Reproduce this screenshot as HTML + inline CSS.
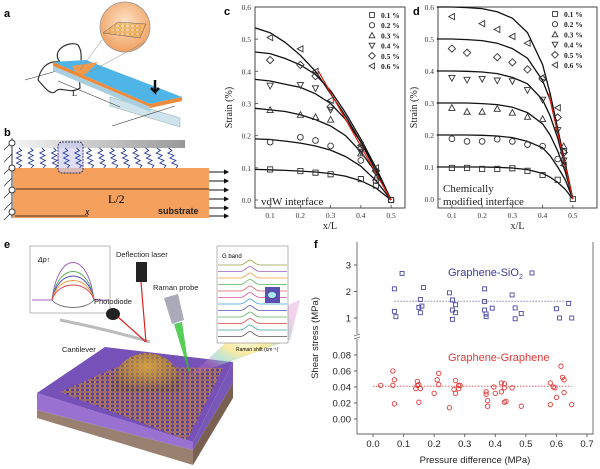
<!DOCTYPE html>
<html><head><meta charset="utf-8">
<style>
html,body{margin:0;padding:0;background:#fff;}
svg{display:block;}
.ser{font-family:"Liberation Serif",serif;}
.san{font-family:"Liberation Sans",sans-serif;}
</style></head>
<body>
<svg id="fig" width="600" height="469" viewBox="0 0 600 469" xmlns="http://www.w3.org/2000/svg">
<defs>
<radialGradient id="insetG" cx="0.5" cy="0.4" r="0.6"><stop offset="0" stop-color="#fde3c8"/><stop offset="1" stop-color="#f0a060"/></radialGradient>
<linearGradient id="barG" x1="0" x2="1"><stop offset="0" stop-color="#f4f4f4"/><stop offset="1" stop-color="#999"/></linearGradient>
<pattern id="hex" width="5" height="4" patternUnits="userSpaceOnUse"><path d="M0 2 L1.3 0 L3.7 0 L5 2 L3.7 4 L1.3 4 Z" fill="none" stroke="#e0a030" stroke-width="0.7"/></pattern>
<radialGradient id="domeG" cx="0.5" cy="0.35" r="0.6"><stop offset="0" stop-color="#c8a050"/><stop offset="1" stop-color="#4a3478"/></radialGradient>
<radialGradient id="rainbow" cx="0.5" cy="0.5" r="0.5"><stop offset="0" stop-color="#fff" stop-opacity="0.9"/><stop offset="0.4" stop-color="#f9e27a" stop-opacity="0.7"/><stop offset="0.7" stop-color="#8fd3c0" stop-opacity="0.6"/><stop offset="1" stop-color="#d070c0" stop-opacity="0.3"/></radialGradient>
</defs>

<!-- Panel a -->
<g>
<text x="4" y="17" class="san" font-size="11" font-weight="bold">a</text>
<path d="M60 62 C50 50 70 40 78 45 C85 55 78 70 80 88 C70 95 60 85 55 92 C50 95 45 88 38 80 C40 70 46 60 60 62 Z" fill="none" stroke="#333" stroke-width="1.2"/>
<line x1="25" y1="80" x2="60" y2="70" stroke="#333" stroke-width="0.6"/>
<polygon points="110,97 180,118 180,127 110,106" fill="#cfe3ec" stroke="#8aa" stroke-width="0.5"/>
<polygon points="53,62 86,60 182,97 150,104" fill="#4fb4e6"/>
<polygon points="72,66 98,62 86,74 78,76" fill="#ee9a50"/>
<polygon points="53,62 150,104 150,107 53,66" fill="#ee8a3a"/>
<polygon points="150,104 182,97 182,101 150,108" fill="#ee8a3a"/>
<polygon points="53,66 150,107 150,112 53,71" fill="#a8cfe0"/>
<line x1="58" y1="81" x2="120" y2="107" stroke="#333" stroke-width="0.6"/>
<text x="72" y="96" class="ser" font-size="8">L</text>
<line x1="112" y1="126" x2="175" y2="106" stroke="#333" stroke-width="0.6"/>
<path d="M155 80 L155 92 L151 88 M155 92 L159 88" stroke="#111" stroke-width="2.5" fill="none"/>
<circle cx="125" cy="27" r="25" fill="url(#insetG)" stroke="#999" stroke-width="0.8"/>
<polygon points="103,33 118,22 146,24 140,38" fill="url(#hex)" stroke="#446" stroke-width="0.4"/>
<line x1="102" y1="40" x2="80" y2="70" stroke="#888" stroke-width="0.5"/>
<line x1="145" y1="42" x2="90" y2="72" stroke="#888" stroke-width="0.5"/>
</g>

<!-- Panel b -->
<g>
<text x="4" y="136" class="san" font-size="11" font-weight="bold">b</text>
<rect x="15" y="140" width="170" height="8" fill="url(#barG)"/>
<rect x="13" y="168" width="196" height="50" fill="#f5a05c"/>
<rect x="58" y="142" width="25" height="31" rx="4" fill="#c8c8f0" fill-opacity="0.6" stroke="#335" stroke-dasharray="2,1"/>
<g id="springs" stroke="#2a3a9a" stroke-width="0.9" fill="none"></g>
<line x1="12" y1="138" x2="12" y2="218" stroke="#333" stroke-width="1"/>
<g stroke="#333" stroke-width="0.8">
<line x1="12" y1="142" x2="4" y2="150"/><line x1="12" y1="154" x2="4" y2="162"/><line x1="12" y1="166" x2="4" y2="174"/><line x1="12" y1="178" x2="4" y2="186"/><line x1="12" y1="190" x2="4" y2="198"/><line x1="12" y1="202" x2="4" y2="210"/><line x1="12" y1="212" x2="4" y2="220"/>
</g>
<g fill="#fff" stroke="#333" stroke-width="0.9">
<circle cx="12" cy="143" r="3"/><circle cx="12" cy="168" r="3"/><circle cx="12" cy="190" r="3"/><circle cx="12" cy="212" r="3"/>
</g>
<line x1="16" y1="189" x2="209" y2="189" stroke="#111" stroke-width="0.8"/>
<text x="108" y="203" class="ser" font-size="12">L/2</text>
<line x1="15" y1="216" x2="88" y2="216" stroke="#111" stroke-width="0.8"/>
<text x="85" y="215" class="ser" font-size="10" font-style="italic">x</text>
<text x="158" y="214" class="san" font-size="9" font-weight="bold" fill="#222">substrate</text>
<g id="pullArrows" stroke="#111" stroke-width="1"></g>
</g>

<!-- Panel c -->
<g id="panelC">
<text x="224" y="15" class="san" font-size="11" font-weight="bold">c</text>
</g>
<!-- Panel d -->
<g id="panelD">
<text x="413" y="15" class="san" font-size="11" font-weight="bold">d</text>
</g>

<!-- Panel e -->
<g>
<text x="4" y="248" class="san" font-size="11" font-weight="bold">e</text>
<polygon points="37,410 193,450 193,465 37,418" fill="#9a8070"/>
<polygon points="193,450 233,383 233,398 193,465" fill="#7a6050"/>
<polygon points="37,393 193,442 193,450 37,410" fill="#9a70d0"/>
<polygon points="193,442 233,362 233,383 193,450" fill="#7a58b8"/>
<polygon points="37,393 105,347 233,362 193,442" fill="#7652b8"/>
<polygon points="60,392 117,367 223,368 187,440" fill="#5a3aa0"/>
<polygon points="60,392 117,367 223,368 187,440" fill="url(#hex)"/>
<path d="M112 392 C112 340 182 340 182 392 Z" fill="url(#domeG)"/>
<path d="M112 392 C112 340 182 340 182 392 Z" fill="url(#hex)"/>
<polygon points="190,376 250,320 300,300 290,340" fill="url(#rainbow)"/>
<rect x="30" y="246" width="80" height="67" fill="#fff" stroke="#888" stroke-width="0.6"/>
<g fill="none" stroke-width="1">
<path d="M32 300 L52 300 C58 250 88 250 94 300 L108 300" stroke="#a060c0"/>
<path d="M52 300 C58 262 88 262 94 300" stroke="#60b060"/>
<path d="M52 300 C58 268 88 268 94 300" stroke="#5050c0"/>
<path d="M52 300 C58 274 88 274 94 300" stroke="#f0a040"/>
<path d="M52 300 C58 280 88 280 94 300" stroke="#e04040"/>
<path d="M52 300 C60 310 86 310 94 300" stroke="#777"/>
</g>
<text x="38" y="262" class="san" font-size="7" font-style="italic">Δp↑</text>
<rect x="217" y="246" width="71" height="97" fill="#fff" stroke="#888" stroke-width="0.6"/>
<g id="ramanLines" fill="none" stroke-width="0.8"></g>
<rect x="265" y="287" width="15" height="16" fill="#5a50b0"/><ellipse cx="272" cy="295" rx="4" ry="3" fill="#aee"/>
<text x="222" y="258" class="san" font-size="6">G band</text>
<text x="236" y="351" class="san" font-size="5">Raman shift (cm⁻¹)</text>
<path d="M60 320 Q110 330 150 342" stroke="#bbb" stroke-width="3" fill="none"/>
<rect x="136" y="262" width="11" height="20" fill="#222"/>
<line x1="141" y1="282" x2="146" y2="342" stroke="#e02020" stroke-width="1.2"/>
<ellipse cx="113" cy="314" rx="7" ry="6" fill="#222"/>
<line x1="118" y1="317" x2="146" y2="342" stroke="#e02020" stroke-width="1.2"/>
<polygon points="164,298 178,294 184,320 172,324" fill="#aab"/>
<polygon points="174,324 182,322 190,376" fill="#30c030" fill-opacity="0.8"/>
<text x="116" y="257" class="san" font-size="7.5" fill="#222">Deflection laser</text>
<text x="153" y="290" class="san" font-size="7.5" fill="#222">Raman probe</text>
<text x="94" y="304" class="san" font-size="7.5" fill="#222">Photodiode</text>
<text x="62" y="352" class="san" font-size="7.5" fill="#222">Cantilever</text>
</g>

<!-- Panel f -->
<g id="panelF">
<text x="314" y="248" class="san" font-size="11" font-weight="bold">f</text>
</g>
</svg>

<script>
// ---------- Panel c data ----------
const cLevels = ["0.1 %","0.2 %","0.3 %","0.4 %","0.5 %","0.6 %"];
const cCurveX = [0.05,0.1,0.15,0.2,0.25,0.3,0.35,0.4,0.45,0.5];
const cCurve1 = [0.095,0.094,0.092,0.09,0.087,0.082,0.074,0.06,0.037,0];
const cCurve2 = [0.19,0.188,0.183,0.177,0.168,0.155,0.135,0.105,0.06,0];
const cCurve3 = [0.285,0.28,0.275,0.265,0.25,0.23,0.2,0.15,0.085,0];
const cCurve4 = [0.375,0.37,0.36,0.35,0.33,0.3,0.25,0.18,0.1,0];
const cCurve5 = [0.46,0.455,0.44,0.42,0.39,0.34,0.27,0.19,0.1,0];
const cCurve6 = [0.535,0.52,0.49,0.45,0.4,0.33,0.26,0.18,0.09,0];
const cRedX = [0.26,0.5];
const cRedY = [0.40,0];
const cPts1x=[0.1,0.2,0.25,0.3,0.4,0.45,0.5], cPts1y=[0.095,0.09,0.085,0.08,0.065,0.045,0];
const cPts2x=[0.1,0.2,0.25,0.3,0.4,0.45,0.5], cPts2y=[0.18,0.195,0.185,0.168,0.123,0.06,0];
const cPts3x=[0.1,0.2,0.25,0.3,0.4,0.45], cPts3y=[0.28,0.265,0.258,0.25,0.145,0.07];
const cPts4x=[0.1,0.2,0.25,0.3,0.4,0.45], cPts4y=[0.355,0.357,0.347,0.28,0.15,0.085];
const cPts5x=[0.1,0.2,0.25,0.3,0.4,0.45], cPts5y=[0.435,0.42,0.385,0.29,0.16,0.09];
const cPts6x=[0.1,0.2,0.25,0.3,0.4,0.45], cPts6y=[0.505,0.47,0.4,0.31,0.17,0.1];
// ---------- Panel d data ----------
const dCurveX = [0.05,0.1,0.15,0.2,0.25,0.3,0.35,0.4,0.425,0.45,0.475,0.5];
const dCurve1 = [0.1,0.1,0.1,0.1,0.099,0.097,0.092,0.08,0.068,0.052,0.03,0];
const dCurve2 = [0.2,0.2,0.2,0.199,0.197,0.192,0.18,0.16,0.135,0.1,0.06,0];
const dCurve3 = [0.3,0.3,0.3,0.298,0.295,0.287,0.27,0.235,0.2,0.15,0.085,0];
const dCurve4 = [0.4,0.4,0.399,0.397,0.392,0.38,0.36,0.31,0.26,0.19,0.1,0];
const dCurve5 = [0.5,0.5,0.498,0.495,0.487,0.47,0.44,0.37,0.31,0.21,0.11,0];
const dCurve6 = [0.6,0.6,0.598,0.595,0.585,0.565,0.52,0.42,0.33,0.22,0.11,0];
const dRedX = [0.42,0.5];
const dRedY = [0.33,0];
const dPts1x=[0.1,0.15,0.2,0.25,0.3,0.35,0.4,0.45,0.5], dPts1y=[0.097,0.097,0.094,0.094,0.096,0.088,0.075,0.06,0];
const dPts2x=[0.1,0.15,0.2,0.25,0.3,0.35,0.4,0.45,0.47], dPts2y=[0.188,0.18,0.18,0.187,0.18,0.17,0.165,0.125,0.15];
const dPts3x=[0.1,0.15,0.2,0.25,0.3,0.35,0.4,0.47], dPts3y=[0.285,0.273,0.273,0.282,0.27,0.257,0.25,0.165];
const dPts4x=[0.1,0.15,0.2,0.25,0.3,0.35,0.4,0.45,0.47], dPts4y=[0.378,0.372,0.375,0.37,0.368,0.34,0.31,0.215,0.12];
const dPts5x=[0.1,0.15,0.25,0.3,0.35,0.4,0.45,0.47], dPts5y=[0.47,0.457,0.443,0.427,0.405,0.375,0.255,0.145];
const dPts6x=[0.1,0.2,0.25,0.3,0.35,0.4,0.45,0.47], dPts6y=[0.57,0.548,0.53,0.508,0.487,0.38,0.285,0.105];
const strainTicks = [0.0,0.1,0.2,0.3,0.4,0.5,0.6];
const xlTicks = [0.1,0.2,0.3,0.4,0.5];
// ---------- Panel f data ----------
const sioX = [0.07,0.07,0.075,0.095,0.15,0.155,0.155,0.16,0.165,0.25,0.26,0.26,0.26,0.27,0.27,0.365,0.365,0.365,0.37,0.37,0.39,0.455,0.465,0.465,0.485,0.52,0.6,0.61,0.64,0.65];
const sioY = [2.1,1.25,1.05,2.68,1.4,1.7,1.2,1.45,2.15,1.95,1.3,0.95,1.68,1.5,1.2,2.1,1.62,1.3,1.15,1.05,1.37,1.87,1.38,0.97,1.17,2.7,1.35,1.0,1.55,1.0];
const ggX = [0.025,0.065,0.065,0.07,0.07,0.14,0.145,0.145,0.15,0.15,0.155,0.2,0.21,0.215,0.215,0.25,0.265,0.27,0.27,0.28,0.28,0.285,0.37,0.37,0.375,0.375,0.395,0.4,0.42,0.42,0.43,0.43,0.43,0.435,0.455,0.485,0.58,0.58,0.59,0.595,0.6,0.615,0.62,0.625,0.625,0.65];
const ggY = [0.042,0.06,0.042,0.049,0.019,0.038,0.047,0.042,0.043,0.021,0.038,0.032,0.049,0.057,0.043,0.014,0.037,0.048,0.032,0.042,0.038,0.042,0.034,0.031,0.023,0.016,0.040,0.032,0.045,0.034,0.044,0.021,0.039,0.022,0.039,0.016,0.045,0.018,0.040,0.039,0.027,0.066,0.052,0.049,0.033,0.018];
const sioMean = [1.63], sioMeanRange = [0.07,0.65];
const ggMean = [0.041], ggMeanRange = [0.0,0.65];
const fXTicks = [0.0,0.1,0.2,0.3,0.4,0.5,0.6,0.7];
const fUpperTicks = [1,2,3];
const fLowerTicks = [0.00,0.02,0.04,0.06,0.08];
const fLowerLabels = ["0.00","0.02","0.04","0.06","0.08"];

const NS="http://www.w3.org/2000/svg";
function mk(parent,tag,attrs){const e=document.createElementNS(NS,tag);for(const k in attrs)e.setAttribute(k,attrs[k]);parent.appendChild(e);return e;}
function lin(d0,d1,r0,r1){return v=>r0+(v-d0)/(d1-d0)*(r1-r0);}

(function(){
  const g=document.getElementById('springs');
  for(let i=0;i<14;i++){
    const x0=19+i*11.5, lean=i*0.6; let d=`M${x0} 148`;
    for(let k=1;k<=8;k++){const y=148+k*2.5;const x=x0+lean*k/8+(k%2?2.5:-2.5)*(k<8?1:0);d+=` L${x.toFixed(1)} ${y}`;}
    const p=mk(g,'path',{d:d});
    
    
  }
  const a=document.getElementById('pullArrows');
  [172,181,190,199,208,216].forEach(y=>{
    mk(a,'line',{x1:209,y1:y,x2:227,y2:y});
    const h=mk(a,'path',{d:`M224 ${y-2} L228 ${y} L224 ${y+2}`,fill:'#111'});
    
    
  });
  const r=document.getElementById('ramanLines');
  const cols=['#9a9a40','#a060c0','#f0a040','#60b060','#e06060','#d050a0','#40a0d0','#5050c0','#60b060','#e04040','#40a0a0','#555'];
  cols.forEach((c,i)=>{const y=265+i*6.5;
    mk(r,'path',{d:`M218 ${y} L240 ${y} C245 ${y} 247 ${y-5} 250 ${y-5} C253 ${y-5} 255 ${y} 260 ${y} L287 ${y}`,stroke:c});});
})();

function markerPath(type,x,y,s){
  switch(type){
    case 0:return `M${x-s} ${y-s}h${2*s}v${2*s}h${-2*s}Z`;
    case 2:return `M${x} ${y-s*1.2}L${x+s*1.2} ${y+s}L${x-s*1.2} ${y+s}Z`;
    case 3:return `M${x} ${y+s*1.2}L${x+s*1.2} ${y-s}L${x-s*1.2} ${y-s}Z`;
    case 4:return `M${x} ${y-s*1.4}L${x+s*1.4} ${y}L${x} ${y+s*1.4}L${x-s*1.4} ${y}Z`;
    case 5:return `M${x-s*1.2} ${y}L${x+s} ${y-s*1.2}L${x+s} ${y+s*1.2}Z`;
  }
}
function marker(g,type,x,y,s,stroke,name){
  let e;
  if(type===1) e=mk(g,'circle',{cx:x,cy:y,r:s*1.1,fill:'none',stroke:stroke,'stroke-width':0.9});
  else e=mk(g,'path',{d:markerPath(type,x,y,s),fill:'none',stroke:stroke,'stroke-width':0.9});
  
  
  return e;
}

function strainPanel(gid,box,xd,curveX,curves,ptsX,ptsY,redX,redY,legX,legY,ylabX,texts){
  const g=document.getElementById(gid);
  const X=lin(xd[0],xd[1],box.l,box.r), Y=lin(0,0.6,box.y0,box.y6);
  const frame=mk(g,'rect',{x:box.l,y:box.t,width:box.r-box.l,height:box.b-box.t,fill:'none',stroke:'#444','stroke-width':1});
  
  
  strainTicks.forEach(v=>{
    mk(g,'line',{x1:box.l,y1:Y(v),x2:box.l+3,y2:Y(v),stroke:'#444','stroke-width':0.8});
    const t=mk(g,'text',{x:box.l-4,y:Y(v)+3,'text-anchor':'end','font-size':7.5,class:'ser',fill:'#333'});
    t.textContent=v.toFixed(1);
    
    
  });
  xlTicks.forEach(v=>{
    mk(g,'line',{x1:X(v),y1:box.b,x2:X(v),y2:box.b-3,stroke:'#444','stroke-width':0.8});
    const t=mk(g,'text',{x:X(v),y:box.b+10,'text-anchor':'middle','font-size':7.5,class:'ser',fill:'#333'});
    t.textContent=v.toFixed(1);
    
    
  });
  const yl=mk(g,'text',{x:ylabX,y:(box.t+box.b)/2,'text-anchor':'middle','font-size':10,class:'ser',fill:'#222',transform:`rotate(-90 ${ylabX} ${(box.t+box.b)/2})`});
  yl.textContent='Strain (%)';
  
  
  const xl=mk(g,'text',{x:(box.l+box.r)/2,y:box.b+21,'text-anchor':'middle','font-size':10,class:'ser',fill:'#222'});
  xl.textContent='x/L';
  
  
  curves.forEach(c=>{
    const p=mk(g,'path',{d:c.map((v,i)=>(i?'L':'M')+X(curveX[i]).toFixed(1)+' '+Y(v).toFixed(1)).join(' '),fill:'none',stroke:'#111','stroke-width':1.3});
    
    
  });
  const rl=mk(g,'line',{x1:X(redX[0]),y1:Y(redY[0]),x2:X(redX[1]),y2:Y(redY[1]),stroke:'#e02010','stroke-width':1.2});
  
  
  ptsX.forEach((xs,k)=>xs.forEach((x,i)=>marker(g,k,X(x),Y(ptsY[k][i]),2.6,'#333','data-point')));
  cLevels.forEach((lab,k)=>{
    const y=legY+k*10.2;
    marker(g,k,legX,y,2.4,'#333','legend-marker');
    const t=mk(g,'text',{x:legX+9,y:y+3,'font-size':7.5,'font-weight':'bold',class:'ser',fill:'#222'});
    t.textContent=lab;
    
    
  });
  texts.forEach(tt=>{
    const t=mk(g,'text',{x:tt[0],y:tt[1],'font-size':11,class:'ser',fill:'#222'});
    t.textContent=tt[2];
    
    
  });
}

strainPanel('panelC',{l:255,r:405,t:7,b:208,y0:200,y6:7},[0.05,0.546],cCurveX,
  [cCurve1,cCurve2,cCurve3,cCurve4,cCurve5,cCurve6],
  [cPts1x,cPts2x,cPts3x,cPts4x,cPts5x,cPts6x],[cPts1y,cPts2y,cPts3y,cPts4y,cPts5y,cPts6y],
  cRedX,cRedY,372,15,232,[[261,205,'vdW interface']]);
strainPanel('panelD',{l:438,r:597,t:7,b:208,y0:199,y6:7},[0.054,0.58],dCurveX,
  [dCurve1,dCurve2,dCurve3,dCurve4,dCurve5,dCurve6],
  [dPts1x,dPts2x,dPts3x,dPts4x,dPts5x,dPts6x],[dPts1y,dPts2y,dPts3y,dPts4y,dPts5y,dPts6y],
  dRedX,dRedY,555,14,417,[[443,192,'Chemically'],[443,205,'modified  interface']]);

(function(){
  const g=document.getElementById('panelF');
  const L=357,R=593,T=242,B=434;
  const X=lin(0,0.7,373,587);
  const YU=lin(1,3,318,265);
  const YL=lin(0,0.08,419,355);
  const fr=mk(g,'path',{d:`M${L} ${T} V${B} H${R} V${T}`,fill:'none',stroke:'#666','stroke-width':0.9});
  
  
  mk(g,'rect',{x:L-4,y:334,width:8,height:5,fill:'#fff'});
  mk(g,'path',{d:`M${L-3} 336 l6 -2 M${L-3} 339 l6 -2`,stroke:'#666','stroke-width':0.8});
  fXTicks.forEach(v=>{
    mk(g,'line',{x1:X(v),y1:B,x2:X(v),y2:B+3,stroke:'#666'});
    const t=mk(g,'text',{x:X(v),y:B+13,'text-anchor':'middle','font-size':9.5,class:'san',fill:'#222'});
    t.textContent=v.toFixed(1);
    
    
  });
  fUpperTicks.forEach(v=>{
    mk(g,'line',{x1:L-3,y1:YU(v),x2:L,y2:YU(v),stroke:'#666'});
    const t=mk(g,'text',{x:L-6,y:YU(v)+3.5,'text-anchor':'end','font-size':9.5,class:'san',fill:'#222'});
    t.textContent=String(v);
    
    
  });
  fLowerTicks.forEach((v,i)=>{
    mk(g,'line',{x1:L-3,y1:YL(v),x2:L,y2:YL(v),stroke:'#666'});
    const t=mk(g,'text',{x:L-6,y:YL(v)+3.5,'text-anchor':'end','font-size':9.5,class:'san',fill:'#222'});
    t.textContent=fLowerLabels[i];
    
    
  });
  const yt=mk(g,'text',{x:318,y:338,'text-anchor':'middle','font-size':9.5,class:'san',fill:'#222',transform:'rotate(-90 318 338)'});
  yt.textContent='Shear stress (MPa)';
  
  
  const xt=mk(g,'text',{x:475,y:463,'text-anchor':'middle','font-size':9.5,class:'san',fill:'#222'});
  xt.textContent='Pressure difference (MPa)';
  
  
  const m1=mk(g,'line',{x1:X(sioMeanRange[0]),y1:YU(sioMean[0]),x2:X(sioMeanRange[1]),y2:YU(sioMean[0]),stroke:'#8888aa','stroke-width':1,'stroke-dasharray':'1.5,1.5'});
  
  
  const m2=mk(g,'line',{x1:X(ggMeanRange[0]),y1:YL(ggMean[0]),x2:X(ggMeanRange[1]),y2:YL(ggMean[0]),stroke:'#e06060','stroke-width':1,'stroke-dasharray':'1.5,1.5'});
  
  
  sioX.forEach((x,i)=>{
    const r=mk(g,'rect',{x:X(x)-2,y:YU(sioY[i])-2,width:4,height:4,fill:'none',stroke:'#4a4aa8','stroke-width':0.9});
    
    
  });
  ggX.forEach((x,i)=>{
    const c=mk(g,'circle',{cx:X(x),cy:YL(ggY[i]),r:2.2,fill:'none',stroke:'#e03a3a','stroke-width':0.9});
    
    
  });
  const s1=mk(g,'text',{x:448,y:276,'font-size':11,class:'san',fill:'#3a3a9a'});
  s1.innerHTML='Graphene-SiO<tspan font-size="7" dy="3">2</tspan>';
  
  
  const s2=mk(g,'text',{x:448,y:361,'font-size':11,class:'san',fill:'#e03a3a'});
  s2.textContent='Graphene-Graphene';
  
  
})();
</script>
</body></html>
